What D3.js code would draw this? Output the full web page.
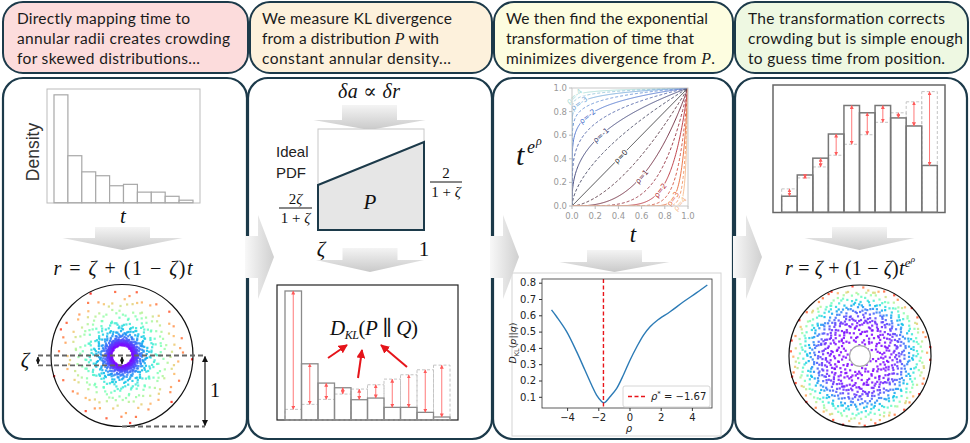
<!DOCTYPE html>
<html><head><meta charset="utf-8">
<script src="https://cdn.jsdelivr.net/npm/d3@7"></script>
<style>body{margin:0;background:#fff}svg{display:block}</style>
</head><body>
<svg id="c" width="970" height="443"></svg>
<script>
// ---------------- DATA ----------------
const headerTexts = [
  ["Directly mapping time to", "annular radii creates crowding", "for skewed distributions..."],
  ["We measure KL divergence", "from a distribution |P| with", "constant annular density..."],
  ["We then find the exponential", "transformation of time that", "minimizes divergence from |P|."],
  ["The transformation corrects", "crowding but is simple enough", "to guess time from position."]
];
const headerColors = ["#fcdcdc", "#fdf1dc", "#fdfde0", "#eef8e2"];
const ZETA = 0.14;
const RHO_STAR = -1.67;
// histogram of t (Q), density per bin of width 0.1
const qDensity = [3.88, 1.69, 1.11, 0.97, 0.61, 0.66, 0.38, 0.38, 0.23, 0.09];
// ideal distribution P per bin
const pDensity = [0.32, 0.47, 0.62, 0.78, 0.93, 1.06, 1.23, 1.36, 1.51, 1.65];
// histogram after transformation
const qTransformed = [0.22, 0.51, 0.74, 1.07, 1.46, 1.36, 1.46, 1.29, 1.18, 0.64];
// schematic ideal PDF heights at r = zeta and r = 1
const idealPdfEnds = [0.511, 1.0];
// KL divergence vs rho
const rhoGrid  = [-5.0, -4.67, -4.03, -3.39, -2.86, -2.43, -2.11, -1.79, -1.67, -1.57, -1.25, -0.82, -0.39, 0.04, 0.47, 0.90, 1.32, 1.75, 2.6, 3.46, 4.31, 4.99];
const klValues = [0.633, 0.591, 0.50, 0.377, 0.264, 0.172, 0.11, 0.071, 0.064, 0.066, 0.10, 0.152, 0.234, 0.326, 0.407, 0.479, 0.53, 0.567, 0.622, 0.683, 0.739, 0.786];
const klXTicks = [-4, -2, 0, 2, 4];
const klYTicks = [0.1, 0.2, 0.3, 0.4, 0.5, 0.6, 0.7, 0.8];
const unitTicks = [0.0, 0.2, 0.4, 0.6, 0.8, 1.0];
const rhoLevels = [-4, -3.5, -3, -2.5, -2, -1.5, -1, -0.5, 0, 0.5, 1, 1.5, 2, 2.5, 3, 3.5, 4];
const labelledLevels = [-4, -3, -2, -1, 0, 1, 2, 3, 4];
// points per radial bin in the two annulus scatters (proportional to their histograms)
const pointsPerBinRaw = [346, 150, 99, 86, 54, 59, 34, 34, 21, 8];
const pointsPerBinFixed = [20, 46, 67, 96, 131, 122, 131, 116, 106, 58];

// ---------------- SETUP ----------------
const svg = d3.select("#c");
const defs = svg.append("defs");
const NAVY = "#1c3a4a";
const SERIF = "'Liberation Serif','DejaVu Serif',serif";
const SANS = "Lato,'Liberation Sans',sans-serif";
const MPL = "'DejaVu Sans',sans-serif";

function grad(id, horiz, c0, c1) {
  const g = defs.append("linearGradient").attr("id", id)
    .attr("x1", 0).attr("y1", 0).attr("x2", horiz ? 1 : 0).attr("y2", horiz ? 0 : 1);
  g.append("stop").attr("offset", 0).attr("stop-color", c0);
  g.append("stop").attr("offset", 1).attr("stop-color", c1);
}
grad("gH", true, "#f8f8f8", "#d0d0d0");
grad("gV", false, "#f4f4f4", "#c9c9c9");

function marker(id, color, size) {
  defs.append("marker").attr("id", id).attr("viewBox", "0 0 10 10")
    .attr("refX", 9).attr("refY", 5).attr("markerWidth", size).attr("markerHeight", size)
    .attr("markerUnits", "userSpaceOnUse").attr("orient", "auto-start-reverse")
    .append("path").attr("d", "M0,0L10,5L0,10z").attr("fill", color);
}
marker("mRed", "#ff5a5a", 4);
marker("mBlk", "#111", 6);
marker("mBlkS", "#111", 4);
marker("mBold", "#e5141a", 9);

// ---------------- HEADERS ----------------
const headerBoxes = [[3, 248], [250, 492], [494, 733], [735, 968]];
const headerTextX = [17, 262, 506, 748];
const headerLineW = [[173, 213, 183], [190, 177, 189], [202, 188, 209], [197, 215, 197]];
headerBoxes.forEach((b, i) => {
  svg.append("rect").attr("x", b[0]).attr("y", 2).attr("width", b[1] - b[0]).attr("height", 71)
    .attr("rx", 20).attr("fill", headerColors[i]).attr("stroke", NAVY).attr("stroke-width", 2);
  headerTexts[i].forEach((line, j) => {
    const t = svg.append("text").attr("x", headerTextX[i]).attr("y", 24 + j * 20)
      .attr("font-family", SANS).attr("font-size", 15.5).attr("fill", "#1a1a1a")
      .attr("textLength", headerLineW[i][j]).attr("lengthAdjust", "spacing");
    line.split("|").forEach((seg, k) => {
      const ts = t.append("tspan").text(seg);
      if (k % 2 === 1) ts.attr("font-family", SERIF).attr("font-style", "italic").attr("font-size", 16);
    });
  });
});

// ---------------- PANELS ----------------
const panelBoxes = [[3, 247], [248, 492], [493, 733], [735, 967]];
panelBoxes.forEach(b => {
  svg.append("rect").attr("x", b[0]).attr("y", 78).attr("width", b[1] - b[0]).attr("height", 361)
    .attr("rx", 20).attr("fill", "#fff").attr("stroke", NAVY).attr("stroke-width", 2.2);
});

function downArrow(cx, yTop, bodyW, bodyH, headW, headH) {
  const x0 = cx - bodyW / 2, x1 = cx + bodyW / 2, yb = yTop + bodyH;
  svg.append("path").attr("fill", "url(#gV)")
    .attr("d", `M${x0},${yTop}L${x1},${yTop}L${x1},${yb}L${cx + headW / 2},${yb}L${cx},${yb + headH}L${cx - headW / 2},${yb}L${x0},${yb}Z`);
}
downArrow(122.5, 227, 55, 11, 120, 12);
downArrow(369.5, 105, 55, 15, 112, 10);
downArrow(370, 248, 55, 12, 108, 12);
downArrow(614.5, 250, 55, 12, 110, 10);
downArrow(859.5, 227, 55, 11, 110, 12);

function mathText(x, y, size, parts, len) {
  const t = svg.append("text").attr("x", x).attr("y", y).attr("text-anchor", "middle")
    .attr("font-family", SERIF).attr("font-size", size).attr("fill", "#111");
  if (len) t.attr("textLength", len).attr("lengthAdjust", "spacing");
  parts.forEach(p => {
    const ts = t.append("tspan").text(p.t);
    if (p.i) ts.attr("font-style", "italic");
    if (p.s) ts.attr("font-size", p.s);
    if (p.dy) ts.attr("dy", p.dy);
  });
  return t;
}

function histogram(g, values, xS, yS, opts) {
  g.selectAll(null).data(values).join("rect")
    .attr("x", (d, i) => xS(i)).attr("width", (d, i) => xS(i + 1) - xS(i))
    .attr("y", d => yS(d)).attr("height", d => yS(0) - yS(d))
    .attr("fill", opts.fill || "none").attr("stroke", opts.stroke)
    .attr("stroke-width", opts.sw || 1).attr("stroke-dasharray", opts.dash || null);
}
function diffArrows(g, a, b, xS, yS) {
  a.forEach((v, i) => {
    const cx = (xS(i) + xS(i + 1)) / 2;
    g.append("line").attr("x1", cx).attr("x2", cx).attr("y1", yS(v)).attr("y2", yS(b[i]))
      .attr("stroke", "#ff6a6a").attr("stroke-width", 0.9)
      .attr("marker-start", "url(#mRed)").attr("marker-end", "url(#mRed)");
  });
}

// ===== Panel 1 =====
{
  const g = svg.append("g");
  g.append("rect").attr("x", 47).attr("y", 89).attr("width", 153).attr("height", 114)
    .attr("fill", "none").attr("stroke", "#bbb").attr("stroke-width", 1);
  const xS = d3.scaleLinear().domain([0, 10]).range([54, 193]);
  const yS = d3.scaleLinear().domain([0, 4.09]).range([202.7, 89]);
  histogram(g, qDensity, xS, yS, {fill: "#fff", stroke: "#a8a8a8", sw: 1.2});
  g.append("text").attr("transform", "translate(39,152) rotate(-90)").attr("text-anchor", "middle")
    .attr("font-family", "'Liberation Sans',Arial,sans-serif").attr("font-size", 17.5).attr("fill", "#333").text("Density");
  mathText(123, 223, 21, [{t: "t", i: 1}]);
  mathText(123, 275, 20, [{t: "r", i: 1}, {t: " = "}, {t: "ζ", i: 1}, {t: " + (1 − "}, {t: "ζ", i: 1}, {t: ")"}, {t: "t", i: 1}], 139);
}

// scatter (deterministic Halton placement inside each histogram bin)
function halton(i, b) { let f = 1, r = 0; while (i > 0) { f /= b; r += f * (i % b); i = Math.floor(i / b); } return r; }
function rainbow(x) {
  const r = Math.min(1, Math.abs(2 * x - 0.5)), gg = Math.sin(Math.PI * x), b = Math.cos(Math.PI * x / 2);
  return d3.rgb(r * 255, gg * 255, b * 255).toString();
}
function makePoints(counts, start, colorOf) {
  const pts = []; let k = start;
  counts.forEach((n, bin) => {
    for (let j = 0; j < n; j++) {
      k++;
      const s = (bin + halton(k, 2)) / 10;
      pts.push({s, c: colorOf(s), ang: 2 * Math.PI * halton(k, 3)});
    }
  });
  return pts;
}
function annulus(cx, cy, R, pts) {
  const rS = d3.scaleLinear().domain([0, 1]).range([ZETA * R, R]);
  const g = svg.append("g");
  g.selectAll(null).data(pts).join("rect")
    .attr("x", d => cx + rS(d.s) * Math.cos(d.ang) - 1.1)
    .attr("y", d => cy + rS(d.s) * Math.sin(d.ang) - 1.1)
    .attr("width", 2.2).attr("height", 2.2).attr("fill", d => rainbow(d.c)).attr("opacity", 0.85);
  g.append("circle").attr("cx", cx).attr("cy", cy).attr("r", R).attr("fill", "none")
    .attr("stroke", "#111").attr("stroke-width", 1.2);
  return rS;
}
{
  const cx = 122, cy = 355.5, R = 71;
  const rS = annulus(cx, cy, R, makePoints(pointsPerBinRaw, 7, s => s));
  const yz = cy + rS(0);
  const dash = (x1, y1, x2, y2) => svg.append("line").attr("x1", x1).attr("y1", y1).attr("x2", x2).attr("y2", y2)
    .attr("stroke", "#666").attr("stroke-width", 1.8).attr("stroke-dasharray", "5,3");
  dash(38, cy, 205, cy);
  dash(38, yz, cx, yz);
  dash(cx, cy + R, 205, cy + R);
  const dbl = (x, y1, y2, m) => svg.append("line").attr("x1", x).attr("x2", x).attr("y1", y1).attr("y2", y2)
    .attr("stroke", "#111").attr("stroke-width", 1.2).attr("marker-start", `url(#${m})`).attr("marker-end", `url(#${m})`);
  dbl(205, cy + 1, cy + R - 1, "mBlk");
  dbl(38, cy + 1.5, yz - 1.5, "mBlkS");
  dbl(cx, cy + 1.5, yz - 1.5, "mBlkS");
  mathText(25, 367, 21, [{t: "ζ", i: 1}]);
  mathText(215, 397, 20, [{t: "1"}]);
}

// ===== Panel 2 =====
{
  mathText(369, 98, 20, [{t: "δa", i: 1}, {t: " ∝ "}, {t: "δr", i: 1}], 62);
  const g = svg.append("g");
  g.append("rect").attr("x", 318).attr("y", 129).attr("width", 106).attr("height", 101)
    .attr("fill", "#fff").attr("stroke", "#c8c8c8").attr("stroke-width", 1);
  const xS = d3.scaleLinear().domain([ZETA, 1]).range([318, 424]);
  const yS = d3.scaleLinear().domain([0, 1.148]).range([230, 129]);
  const area = d3.area().x(d => xS(d[0])).y0(yS(0)).y1(d => yS(d[1]));
  const pts = [[ZETA, idealPdfEnds[0]], [1, idealPdfEnds[1]]];
  g.append("path").attr("d", area(pts)).attr("fill", "#e6e6e6").attr("stroke", NAVY).attr("stroke-width", 2);
  mathText(370, 209, 21, [{t: "P", i: 1}]);
  svg.append("text").attr("x", 276).attr("y", 157).attr("font-family", "'Liberation Sans',Arial,sans-serif")
    .attr("font-size", 15).attr("fill", "#222").text("Ideal");
  svg.append("text").attr("x", 276).attr("y", 178).attr("font-family", "'Liberation Sans',Arial,sans-serif")
    .attr("font-size", 15).attr("fill", "#222").text("PDF");
  const frac = (cx, yl, num, den, w) => {
    mathText(cx, yl - 4, 15, num);
    svg.append("line").attr("x1", cx - w / 2).attr("x2", cx + w / 2).attr("y1", yl).attr("y2", yl).attr("stroke", "#111").attr("stroke-width", 1);
    mathText(cx, yl + 15, 15, den);
  };
  frac(295.5, 208, [{t: "2"}, {t: "ζ", i: 1}], [{t: "1 + "}, {t: "ζ", i: 1}], 33);
  frac(446, 182, [{t: "2"}], [{t: "1 + "}, {t: "ζ", i: 1}], 32);
  mathText(321, 256, 21, [{t: "ζ", i: 1}]);
  mathText(424, 256, 21, [{t: "1"}]);

  const h = svg.append("g");
  h.append("rect").attr("x", 277).attr("y", 285).attr("width", 181).attr("height", 135)
    .attr("fill", "#fff").attr("stroke", "#222").attr("stroke-width", 1.2);
  const hx = d3.scaleLinear().domain([0, 10]).range([285, 450]);
  const hy = d3.scaleLinear().domain([0, 4.06]).range([420, 285]);
  histogram(h, pDensity, hx, hy, {stroke: "#c4c4c4", sw: 1, dash: "3,2"});
  histogram(h, qDensity, hx, hy, {stroke: "#8a8a8a", sw: 1.3});
  diffArrows(h, qDensity, pDensity, hx, hy);
  mathText(374, 335, 21, [{t: "D", i: 1}, {t: "KL", i: 1, s: 12, dy: 4}, {t: "(", dy: -4}, {t: "P", i: 1}, {t: " ∥ "}, {t: "Q", i: 1}, {t: ")"}], 88);
  const bold = (x1, y1, x2, y2) => svg.append("line").attr("x1", x1).attr("y1", y1).attr("x2", x2).attr("y2", y2)
    .attr("stroke", "#e5141a").attr("stroke-width", 2).attr("marker-end", "url(#mBold)");
  bold(328, 358, 347, 345);
  bold(358, 378, 362, 350);
  bold(407, 367, 381, 345);
}

// ===== Panel 3 =====
{
  const x0 = 572, x1 = 688, y0 = 206, y1 = 88;
  const xS = d3.scaleLinear().domain([0, 1]).range([x0, x1]);
  const yS = d3.scaleLinear().domain([0, 1]).range([y0, y1]);
  defs.append("clipPath").attr("id", "clipC").append("rect").attr("x", x0).attr("y", y1).attr("width", x1 - x0).attr("height", y0 - y1);
  const ice = d3.scaleLinear().domain([-4, -3, -2, -1, 0, 1, 2, 3, 4])
    .range(["#a9dcd6", "#6fa6d8", "#4a70cc", "#3b3f75", "#2a2a2e", "#6a2238", "#b8303a", "#e86a38", "#f6bb8c"]);
  const ts = [0];
  for (let e = -14; e <= -2; e += 0.25) ts.push(Math.pow(10, e));
  for (let t = 0.01; t < 0.99; t += 0.004) ts.push(t);
  for (let e = -2; e >= -8; e -= 0.25) ts.push(1 - Math.pow(10, e));
  ts.push(1);
  const g = svg.append("g").attr("clip-path", "url(#clipC)");
  const line = d3.line().x(d => xS(d[0])).y(d => yS(d[1]));
  rhoLevels.forEach(rho => {
    const ex = Math.exp(rho);
    g.append("path").attr("d", line(ts.map(t => [t, Math.pow(t, ex)])))
      .attr("fill", "none").attr("stroke", ice(rho)).attr("stroke-width", 0.9)
      .attr("stroke-dasharray", Number.isInteger(rho) ? null : "3,2");
  });
  const labelX = {0: 0.42, 1: 0.60, 2: 0.76, 3: 0.87, 4: 0.93};
  labelledLevels.forEach(rho => {
    const k = Math.abs(rho), xk = labelX[k], yk = Math.pow(xk, Math.exp(k));
    let px, py, slope;
    if (rho >= 0) { px = xk; py = yk; slope = Math.exp(k) * Math.pow(xk, Math.exp(k) - 1); }
    else { px = yk; py = xk; slope = 1 / (Math.exp(k) * Math.pow(xk, Math.exp(k) - 1)); }
    const ang = -Math.atan(slope * (y0 - y1) / (x1 - x0)) * 180 / Math.PI;
    svg.append("text").attr("transform", `translate(${xS(px)},${yS(py)}) rotate(${ang})`)
      .attr("text-anchor", "middle").attr("dy", "0.35em")
      .attr("font-family", MPL).attr("font-size", 7.5).attr("fill", ice(rho))
      .attr("stroke", "#fff").attr("stroke-width", 2.2).attr("paint-order", "stroke")
      .text("ρ=" + rho);
  });
  svg.append("rect").attr("x", x0).attr("y", y1).attr("width", x1 - x0).attr("height", y0 - y1)
    .attr("fill", "none").attr("stroke", "#c8c8c8").attr("stroke-width", 1);
  unitTicks.forEach(v => {
    svg.append("line").attr("x1", xS(v)).attr("x2", xS(v)).attr("y1", y0).attr("y2", y0 + 3).attr("stroke", "#bbb");
    svg.append("text").attr("x", xS(v)).attr("y", y0 + 13).attr("text-anchor", "middle")
      .attr("font-family", MPL).attr("font-size", 8.5).attr("fill", "#999").text(v.toFixed(1));
    svg.append("line").attr("x1", x0 - 3).attr("x2", x0).attr("y1", yS(v)).attr("y2", yS(v)).attr("stroke", "#bbb");
    svg.append("text").attr("x", x0 - 5).attr("y", yS(v) + 3).attr("text-anchor", "end")
      .attr("font-family", MPL).attr("font-size", 8.5).attr("fill", "#999").text(v.toFixed(1));
  });
  svg.append("text").attr("x", 516).attr("y", 165).attr("font-family", SERIF).attr("font-style", "italic").attr("font-size", 30).attr("fill", "#111").text("t");
  svg.append("text").attr("x", 527).attr("y", 153).attr("font-family", SERIF).attr("font-style", "italic").attr("font-size", 18).attr("fill", "#111").text("e");
  svg.append("text").attr("x", 536).attr("y", 145).attr("font-family", SERIF).attr("font-style", "italic").attr("font-size", 12).attr("fill", "#111").text("ρ");
  mathText(633, 242, 23, [{t: "t", i: 1}]);

  // KL chart
  svg.append("rect").attr("x", 512).attr("y", 273).attr("width", 209).attr("height", 163)
    .attr("fill", "#fff").attr("stroke", "#d4d4d4").attr("stroke-width", 1);
  const kx = d3.scaleLinear().domain([-5.61, 5.29]).range([542, 712]);
  const ky = d3.scaleLinear().domain([0.0313, 0.8227]).range([408, 279]);
  const k = svg.append("g");
  k.append("path").attr("d", d3.line().x(d => kx(d)).y((d, i) => ky(klValues[i])).curve(d3.curveCatmullRom)(rhoGrid))
    .attr("fill", "none").attr("stroke", "#2c7bb6").attr("stroke-width", 1.4);
  k.append("line").attr("x1", kx(RHO_STAR)).attr("x2", kx(RHO_STAR)).attr("y1", 279).attr("y2", 408)
    .attr("stroke", "#e8141a").attr("stroke-width", 1.4).attr("stroke-dasharray", "4,2.5");
  k.append("rect").attr("x", 542).attr("y", 279).attr("width", 170).attr("height", 129)
    .attr("fill", "none").attr("stroke", "#333").attr("stroke-width", 0.8);
  k.append("g").attr("transform", "translate(0,408)")
    .call(d3.axisBottom(kx).tickValues(klXTicks).tickSize(3).tickFormat(d => d < 0 ? "−" + Math.abs(d) : d))
    .call(a => { a.select(".domain").remove(); a.selectAll("text").attr("font-family", MPL).attr("font-size", 10).attr("fill", "#222"); a.selectAll("line").attr("stroke", "#333"); });
  k.append("g").attr("transform", "translate(542,0)")
    .call(d3.axisLeft(ky).tickValues(klYTicks).tickSize(3).tickFormat(d3.format(".1f")))
    .call(a => { a.select(".domain").remove(); a.selectAll("text").attr("font-family", MPL).attr("font-size", 10).attr("fill", "#222"); a.selectAll("line").attr("stroke", "#333"); });
  k.append("rect").attr("x", 623).attr("y", 386).attr("width", 87).attr("height", 21).attr("rx", 2)
    .attr("fill", "#fff").attr("stroke", "#ccc").attr("stroke-width", 0.8);
  k.append("line").attr("x1", 628).attr("x2", 646).attr("y1", 396.5).attr("y2", 396.5)
    .attr("stroke", "#e8141a").attr("stroke-width", 1.4).attr("stroke-dasharray", "4,2.5");
  const lt = k.append("text").attr("x", 651).attr("y", 400).attr("font-family", MPL).attr("font-size", 10).attr("fill", "#222");
  lt.append("tspan").attr("font-style", "italic").text("ρ");
  lt.append("tspan").attr("font-size", 7).attr("dy", -4).text("*");
  lt.append("tspan").attr("dy", 4).text(" = −1.67");
  const yl = k.append("text").attr("transform", "translate(516,343) rotate(-90)").attr("text-anchor", "middle")
    .attr("font-family", MPL).attr("font-size", 9.5).attr("fill", "#222");
  yl.append("tspan").attr("font-style", "italic").text("D");
  yl.append("tspan").attr("font-size", 6.5).attr("dy", 2.5).text("KL");
  yl.append("tspan").attr("dy", -2.5).text("(");
  yl.append("tspan").attr("font-style", "italic").text("p");
  yl.append("tspan").text("||");
  yl.append("tspan").attr("font-style", "italic").text("q");
  yl.append("tspan").text(")");
  k.append("text").attr("x", 629).attr("y", 432).attr("text-anchor", "middle").attr("font-family", MPL)
    .attr("font-style", "italic").attr("font-size", 10).attr("fill", "#222").text("ρ");
}

// ===== Panel 4 =====
{
  const g = svg.append("g");
  g.append("rect").attr("x", 773).attr("y", 85).attr("width", 172).attr("height", 127.5)
    .attr("fill", "#fff").attr("stroke", "#666").attr("stroke-width", 1.5);
  const xS = d3.scaleLinear().domain([0, 10]).range([781.7, 937.3]);
  const yS = d3.scaleLinear().domain([0, 1.74]).range([212.3, 85]);
  histogram(g, pDensity, xS, yS, {stroke: "#c4c4c4", sw: 1, dash: "3,2"});
  histogram(g, qTransformed, xS, yS, {stroke: "#777", sw: 1.5});
  diffArrows(g, qTransformed, pDensity, xS, yS);
  const t = svg.append("text").attr("x", 850).attr("y", 275).attr("text-anchor", "middle")
    .attr("font-family", SERIF).attr("font-size", 20).attr("fill", "#111").attr("textLength", 130).attr("lengthAdjust", "spacing");
  [{t: "r", i: 1}, {t: " = "}, {t: "ζ", i: 1}, {t: " + (1 − "}, {t: "ζ", i: 1}, {t: ")"}, {t: "t", i: 1}].forEach(p => {
    const s = t.append("tspan").text(p.t); if (p.i) s.attr("font-style", "italic");
  });
  t.append("tspan").attr("font-style", "italic").attr("font-size", 13).attr("dy", -8).text("e");
  t.append("tspan").attr("font-style", "italic").attr("font-size", 9).attr("dy", -5).text("ρ");

  const cx = 860, cy = 356, R = 71;
  annulus(cx, cy, R, makePoints(pointsPerBinFixed, 3, s => Math.pow(s, 1 / 0.27)));
  svg.append("circle").attr("cx", cx).attr("cy", cy).attr("r", ZETA * R * 1.05).attr("fill", "#fff")
    .attr("stroke", "#aaa").attr("stroke-width", 1.2);
}

// ---------------- SIDE ARROWS ----------------
[245, 490, 733].forEach(x0 => {
  const cy = 257;
  svg.append("path").attr("fill", "url(#gH)")
    .attr("d", `M${x0},${cy - 21}L${x0 + 13},${cy - 21}L${x0 + 13},${cy - 42}L${x0 + 29},${cy}L${x0 + 13},${cy + 42}L${x0 + 13},${cy + 21}L${x0},${cy + 21}Z`);
});
</script>
</body></html>
